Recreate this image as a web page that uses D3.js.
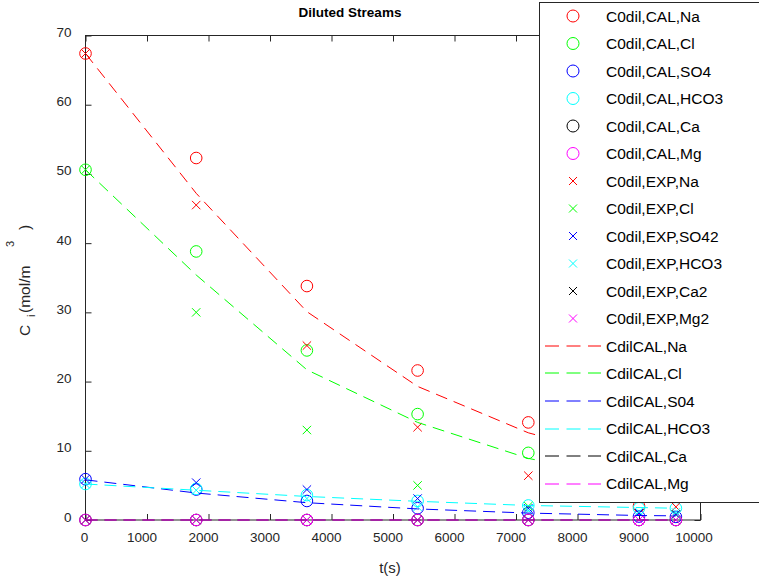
<!DOCTYPE html>
<html>
<head>
<meta charset="utf-8">
<script src="https://cdn.jsdelivr.net/npm/d3@7"></script>
<style>
  body { margin: 0; background: #fff; }
  svg { display: block; font-family: "Liberation Sans", Arial, sans-serif; }
</style>
</head>
<body>
<div class="chart"></div>
<script>
/*--------------------------------------------------------------------------
+++ Data
--------------------------------------------------------------------------*/
var times = [0, 1800, 3600, 5400, 7200, 9000, 9600];

// calculated (circles)
var calNa   = [67.4, 52.3, 33.8, 21.6, 14.1, 2.0, 9.5];
var calCl   = [50.6, 38.8, 24.5, 15.3, 9.7, 6.5, 5.5];
var calSO4  = [5.9, 4.4, 2.75, 1.7, 1.05, 0.5, 0.45];
var calHCO3 = [5.2, 4.5, 3.6, 2.75, 2.1, 1.7, 1.7];
var calCa   = [0, 0, 0, 0, 0, 0, 0];
var calMg   = [0, 0, 0, 0, 0, 0, 0];

// experimental (crosses)
var expNa   = [67.4, 45.5, 25.2, 13.4, 6.4, 4.5, 1.9];
var expCl   = [50.6, 30.0, 13.0, 5.0, 2.0, 1.0, 0.8];
var expSO4  = [5.9, 5.4, 4.4, 3.1, 1.7, 1.0, 0.8];
var expHCO3 = [5.2, 4.3, 3.1, 1.9, 1.4, 1.2, 1.1];
var expCa   = [0, 0, 0, 0, 0, 0, 0];
var expMg   = [0, 0, 0, 0, 0, 0, 0];

// model curves (dashed)
var modNa   = [67.4, 47.2, 30.1, 19.3, 12.6, 8.3, 7.2];
var modCl   = [50.6, 35.4, 21.7, 14.1, 8.9, 5.8, 5.0];
var modSO4  = [5.8, 3.9, 2.5, 1.6, 1.0, 0.65, 0.6];
var modHCO3 = [5.2, 4.3, 3.4, 2.7, 2.1, 1.8, 1.7];
var modCa   = [0, 0, 0, 0, 0, 0, 0];
var modMg   = [0, 0, 0, 0, 0, 0, 0];

var xTicks = [0, 1000, 2000, 3000, 4000, 5000, 6000, 7000, 8000, 9000, 10000];
var yTicks = [0, 10, 20, 30, 40, 50, 60, 70];

var colors = ["#ff0000", "#00ff00", "#0000ff", "#00ffff", "#000000", "#ff00ff"];

var series = [
  { name: "C0dil,CAL,Na",   type: "circle", values: calNa },
  { name: "C0dil,CAL,Cl",   type: "circle", values: calCl },
  { name: "C0dil,CAL,SO4",  type: "circle", values: calSO4 },
  { name: "C0dil,CAL,HCO3", type: "circle", values: calHCO3 },
  { name: "C0dil,CAL,Ca",   type: "circle", values: calCa },
  { name: "C0dil,CAL,Mg",   type: "circle", values: calMg },
  { name: "C0dil,EXP,Na",   type: "cross", values: expNa },
  { name: "C0dil,EXP,Cl",   type: "cross", values: expCl },
  { name: "C0dil,EXP,SO42", type: "cross", values: expSO4 },
  { name: "C0dil,EXP,HCO3", type: "cross", values: expHCO3 },
  { name: "C0dil,EXP,Ca2",  type: "cross", values: expCa },
  { name: "C0dil,EXP,Mg2",  type: "cross", values: expMg },
  { name: "CdilCAL,Na",     type: "line", values: modNa },
  { name: "CdilCAL,Cl",     type: "line", values: modCl },
  { name: "CdilCAL,S04",    type: "line", values: modSO4 },
  { name: "CdilCAL,HCO3",   type: "line", values: modHCO3 },
  { name: "CdilCAL,Ca",     type: "line", values: modCa },
  { name: "CdilCAL,Mg",     type: "line", values: modMg }
];
series.forEach(function (s, i) { s.color = colors[i % 6]; });

/*--------------------------------------------------------------------------
+++ Chart space
--------------------------------------------------------------------------*/
var svgWidth = 759, svgHeight = 580;
var margin = { top: 35.5, left: 85.5 };
var width = 615, height = 484.5;
var axisColor = "#262626";

var svg = d3.select(".chart").append("svg")
  .attr("width", svgWidth)
  .attr("height", svgHeight);

var chartGroup = svg.append("g")
  .attr("transform", `translate(${margin.left}, ${margin.top})`);

var xScale = d3.scaleLinear().domain([0, 10000]).range([0, width]);
var yScale = d3.scaleLinear().domain([0, 70]).range([height, 0]);

/*--------------------------------------------------------------------------
+++ Axes (MATLAB-style box with inward ticks)
--------------------------------------------------------------------------*/
function styleAxis(g) {
  g.select(".domain").remove();
  g.selectAll(".tick line").attr("stroke", axisColor);
  g.selectAll(".tick text").attr("fill", axisColor).style("font-size", "13.5px")
    .style("font-family", "Liberation Sans, Arial, sans-serif");
}

var xAxisG = chartGroup.append("g")
  .attr("transform", `translate(0, ${height})`)
  .call(d3.axisBottom(xScale).tickValues(xTicks).tickFormat(d3.format("d"))
    .tickSizeInner(-6).tickSizeOuter(0).tickPadding(12))
  .call(styleAxis);

// the reference labels sit a little left of their ticks
xAxisG.selectAll(".tick text")
  .attr("dx", function (d) { return -1.4 * String(d).length; });

chartGroup.append("g")
  .call(d3.axisTop(xScale).tickValues(xTicks).tickFormat("")
    .tickSizeInner(-6).tickSizeOuter(0))
  .call(styleAxis);

chartGroup.append("g")
  .call(d3.axisLeft(yScale).tickValues(yTicks).tickFormat(d3.format("d"))
    .tickSizeInner(-6).tickSizeOuter(0).tickPadding(14))
  .call(styleAxis)
  .selectAll(".tick text").attr("dy", "0").attr("y", 1);

chartGroup.append("g")
  .attr("transform", `translate(${width}, 0)`)
  .call(d3.axisRight(yScale).tickValues(yTicks).tickFormat("")
    .tickSizeInner(-6).tickSizeOuter(0))
  .call(styleAxis);

chartGroup.append("rect")
  .attr("width", width)
  .attr("height", height)
  .attr("fill", "none")
  .attr("stroke", axisColor)
  .attr("stroke-width", 1);

/*--------------------------------------------------------------------------
+++ Marks
--------------------------------------------------------------------------*/
var circleR = 5.8, crossH = 4.2;

function drawCross(g, cx, cy, color, h) {
  g.append("path")
    .attr("d", `M${cx - h},${cy - h}L${cx + h},${cy + h}M${cx - h},${cy + h}L${cx + h},${cy - h}`)
    .attr("stroke", color)
    .attr("stroke-width", 1)
    .attr("fill", "none");
}

var line = d3.line()
  .x(function (d, i) { return xScale(times[i]); })
  .y(function (d) { return yScale(d); });

series.forEach(function (s) {
  if (s.type === "circle") {
    chartGroup.append("g").selectAll("circle")
      .data(s.values)
      .enter()
      .append("circle")
      .attr("cx", function (d, i) { return xScale(times[i]); })
      .attr("cy", function (d) { return yScale(d); })
      .attr("r", circleR)
      .attr("fill", "none")
      .attr("stroke", s.color)
      .attr("stroke-width", 1);
  } else if (s.type === "cross") {
    var g = chartGroup.append("g");
    s.values.forEach(function (d, i) {
      drawCross(g, xScale(times[i]), yScale(d), s.color, crossH);
    });
  } else {
    chartGroup.append("path")
      .datum(s.values)
      .attr("d", line)
      .attr("fill", "none")
      .attr("stroke", s.color)
      .attr("stroke-width", 1)
      .attr("stroke-dasharray", "12,7");
  }
});

/*--------------------------------------------------------------------------
+++ Titles and labels
--------------------------------------------------------------------------*/
svg.append("text")
  .attr("x", 350)
  .attr("y", 17)
  .attr("text-anchor", "middle")
  .style("font-size", "13.5px")
  .style("font-weight", "bold")
  .attr("fill", "#000")
  .text("Diluted Streams");

svg.append("text")
  .attr("x", 390)
  .attr("y", 573)
  .attr("text-anchor", "middle")
  .style("font-size", "15px")
  .attr("fill", axisColor)
  .text("t(s)");

// y label, pieces placed like MATLAB's tex rendering
var yLab = svg.append("g")
  .attr("transform", "translate(30, 336) rotate(-90)")
  .attr("fill", axisColor)
  .style("font-size", "15.5px");
yLab.append("text").attr("x", 0).attr("y", 0).text("C");
yLab.append("text").attr("x", 19).attr("y", 5).style("font-size", "11px").text("i");
yLab.append("text").attr("x", 23).attr("y", 0).text("(mol/m");
yLab.append("text").attr("x", 89).attr("y", -16).style("font-size", "11px").text("3");
yLab.append("text").attr("x", 106).attr("y", 0).text(")");

/*--------------------------------------------------------------------------
+++ Legend
--------------------------------------------------------------------------*/
var legend = svg.append("g");
legend.append("rect")
  .attr("x", 539.5)
  .attr("y", 2.5)
  .attr("width", 240)
  .attr("height", 500)
  .attr("fill", "#fff")
  .attr("stroke", axisColor)
  .attr("stroke-width", 1);

var rowY = d3.scaleLinear().domain([0, 17]).range([16, 483.5]);

series.forEach(function (s, i) {
  var y = rowY(i);
  if (s.type === "circle") {
    legend.append("circle")
      .attr("cx", 573).attr("cy", y).attr("r", 6)
      .attr("fill", "none").attr("stroke", s.color).attr("stroke-width", 1);
  } else if (s.type === "cross") {
    drawCross(legend, 573, y, s.color, 4);
  } else {
    var ly = Math.round(y);
    legend.append("line")
      .attr("x1", 545).attr("x2", 601).attr("y1", ly).attr("y2", ly)
      .attr("stroke", s.color).attr("stroke-width", 1)
      .attr("stroke-dasharray", "14,7.5");
  }
  legend.append("text")
    .attr("x", 606)
    .attr("y", y + 5.5)
    .style("font-size", "15.5px")
    .attr("fill", "#000")
    .text(s.name);
});
</script>
</body>
</html>
